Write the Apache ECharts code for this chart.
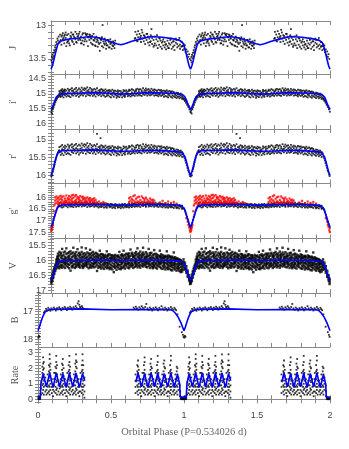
<!DOCTYPE html>
<html><head><meta charset="utf-8">
<script src="https://cdn.jsdelivr.net/npm/echarts@6/dist/echarts.min.js"></script>
<style>html,body{margin:0;padding:0;background:#fff}#c{width:349px;height:449px}</style>
</head><body><div id="c"></div>
<script>
// ---------- tick labels ----------
const phaseLabels=[0,0.5,1,1.5,2];
const jLabels=[13,13.5];
const iLabels=[14.5,15,15.5,16];
const rLabels=[15,15.5,16];
const gLabels=[16,16.5,17,17.5];
const vLabels=[15.5,16,16.5,17];
const bLabels=[17,18];
const rateLabels=[0,1,2,3];
const bandNames=['J',"i'","r'","g'",'V','B','Rate'];
const xTitle='Orbital Phase (P=0.534026 d)';

// ---------- observations (phase 0-1; plotted for two cycles) ----------
const jObs=[[0.003,13.52],[0.006,13.47],[0.008,13.55],[0.011,13.44],[0.014,13.49],[0.017,13.41],[0.02,13.46],[0.023,13.37],[0.026,13.4],[0.029,13.33],[0.032,13.3],[0.035,13.36],[0.038,13.25],[0.042,13.28],[0.046,13.2],[0.05,13.23],[0.055,13.17],
[0.06,13.26],[0.07,13.22],[0.08,13.15],[0.09,13.19],[0.1,13.14],[0.11,13.31],[0.12,13.24],[0.13,13.27],[0.14,13.16],[0.15,13.23],[0.16,13.14],[0.17,13.19],[0.18,13.25],[0.19,13.17],[0.2,13.13],[0.21,13.22],[0.22,13.27],[0.23,13.12],[0.24,13.24],[0.25,13.14],[0.26,13.13],[0.27,13.18],[0.28,13.15],[0.29,13.2],[0.3,13.29],[0.31,13.23],[0.32,13.31],[0.33,13.21],[0.34,13.26],[0.35,13.38],[0.36,13.22],[0.37,13.0],[0.38,13.27],[0.39,13.24],[0.4,13.3],[0.41,13.22],[0.42,13.33],[0.43,13.26],[0.44,13.3],[0.45,13.27],[0.46,13.23],
[0.6,13.2],[0.62,13.24],[0.64,13.18],[0.65,13.07],[0.67,13.16],[0.69,13.13],[0.71,13.25],[0.72,13.06],[0.74,13.3],[0.76,13.15],[0.78,13.2],[0.8,13.24],[0.82,13.29],[0.84,13.34],[0.86,13.2],[0.88,13.24],[0.9,13.22],[0.92,13.19],[0.94,13.31],[0.95,13.28],[0.955,13.35],[0.96,13.3],[0.965,13.4],[0.97,13.36],[0.975,13.44],[0.98,13.39],[0.985,13.47],[0.99,13.43],[0.995,13.5]];
const jCols=[[0.065,[13.24,13.14]],[0.075,[13.17,13.29]],[0.085,[13.12,13.21]],[0.095,[13.27,13.16]],[0.105,[13.19,13.11]],[0.115,[13.26,13.15]],[0.125,[13.13,13.23]],[0.135,[13.2,13.3]],[0.145,[13.11,13.18]],[0.155,[13.25,13.14]],[0.165,[13.17,13.28]],[0.175,[13.21,13.1]],[0.185,[13.13,13.26]],[0.195,[13.22,13.16]],[0.205,[13.1,13.2]],[0.215,[13.27,13.17]],[0.225,[13.14,13.23]],[0.235,[13.19,13.29]],[0.245,[13.12,13.21]],[0.255,[13.24,13.15]],[0.265,[13.18,13.31]],[0.275,[13.14,13.22]],[0.285,[13.26,13.19]],[0.295,[13.16,13.28]],[0.305,[13.22,13.13]],[0.315,[13.3,13.2]],[0.325,[13.17,13.25]],[0.335,[13.23,13.32]],[0.345,[13.19,13.28]],[0.355,[13.26,13.21]],[0.365,[13.31,13.18]],[0.375,[13.24,13.33]],[0.385,[13.2,13.29]],[0.395,[13.27,13.35]],[0.405,[13.22,13.3]],[0.415,[13.33,13.25]],[0.425,[13.28,13.21]],[0.435,[13.35,13.26]],[0.445,[13.24,13.31]],[0.455,[13.29,13.34]],
[0.605,[13.19,13.1]],[0.615,[13.14,13.23]],[0.625,[13.09,13.18]],[0.635,[13.21,13.13]],[0.645,[13.16,13.25]],[0.655,[13.11,13.2]],[0.665,[13.24,13.15]],[0.675,[13.18,13.28]],[0.685,[13.13,13.22]],[0.695,[13.26,13.17]],[0.705,[13.2,13.3]],[0.715,[13.15,13.24]],[0.725,[13.28,13.19]],[0.735,[13.22,13.32]],[0.745,[13.17,13.27]],[0.755,[13.3,13.21]],[0.765,[13.24,13.34]],[0.775,[13.19,13.29]],[0.785,[13.32,13.23]],[0.795,[13.26,13.35]],[0.805,[13.21,13.3]],[0.815,[13.33,13.25]],[0.825,[13.28,13.36]],[0.835,[13.23,13.31]],[0.845,[13.34,13.27]],[0.855,[13.29,13.22]],[0.865,[13.35,13.26]],[0.875,[13.24,13.32]],[0.885,[13.3,13.37]],[0.895,[13.26,13.2]],[0.905,[13.33,13.28]],[0.915,[13.22,13.31]],[0.925,[13.29,13.35]],[0.935,[13.25,13.32]],[0.945,[13.31,13.37]]];

const iObs=[[0.002,15.62],[0.005,15.55],[0.008,15.66],[0.01,15.48],[0.013,15.52],[0.016,15.4],[0.019,15.45],[0.022,15.33],[0.025,15.37],[0.028,15.25],[0.031,15.29],[0.034,15.18],[0.037,15.22],[0.04,15.12],[0.044,15.16],[0.048,15.08],[0.052,15.11],[0.056,15.04],
[0.948,15.14],[0.952,15.19],[0.956,15.16],[0.96,15.24],[0.964,15.21],[0.968,15.3],[0.972,15.27],[0.976,15.37],[0.98,15.34],[0.984,15.44],[0.988,15.41],[0.992,15.52],[0.996,15.49],[0.999,15.6]];
const iCols=[[0.06,[15.05,14.91,14.99]],[0.065,[14.95,15.08]],[0.07,[14.88,15.02,15.1]],[0.075,[14.9,15.0]],[0.08,[14.95,14.84,15.07]],[0.085,[15.03,14.92]],[0.09,[15.12,14.97,14.9]],[0.095,[14.86,15.0]],[0.1,[14.86,15.04,14.93]],[0.11,[15.0,14.89,15.09]],[0.12,[14.83,14.96,15.06]],[0.13,[15.08,14.92,14.87]],[0.14,[14.98,15.11,14.85]],[0.15,[14.9,15.03,14.81]],[0.16,[15.06,14.94,14.88]],[0.17,[14.84,15.0,14.96]],[0.18,[14.92,14.8,15.07]],[0.19,[15.03,14.87,14.95]],[0.2,[14.82,14.99,15.1]],[0.21,[14.94,15.05,14.86]],[0.22,[14.79,14.91,15.02]],[0.23,[15.06,14.85,14.97]],[0.24,[14.88,15.0,14.81]],[0.25,[14.95,14.83,15.08]],[0.26,[15.02,14.9,14.78]],[0.27,[14.86,15.04,14.93]],[0.28,[14.8,14.97,15.06]],[0.29,[14.91,15.01,14.84]],[0.3,[15.07,14.87,14.95]],[0.31,[14.83,14.99,15.03]],[0.32,[14.93,15.09,14.86]],[0.33,[14.81,14.95,15.01]],[0.34,[15.05,14.89,14.97]],[0.35,[14.87,15.02,14.92]],[0.36,[14.96,14.84,15.08]],[0.37,[15.03,14.91,14.86]],[0.38,[14.89,15.06,14.98]],[0.39,[14.94,14.85,15.1]],[0.4,[15.0,14.9,15.07]],[0.41,[14.88,15.04,14.95]],[0.42,[15.09,14.93,14.87]],[0.43,[14.91,15.01,15.12]],[0.44,[14.97,14.86,15.05]],[0.45,[15.1,14.95,14.9]],[0.46,[14.89,15.03,14.99]],[0.47,[15.06,14.92,15.13]],[0.48,[14.94,15.08,14.88]],[0.49,[15.02,14.9,15.11]],[0.5,[14.91,15.05,14.98]],[0.51,[15.12,14.96,15.01]],[0.52,[14.93,15.07,14.87]],[0.53,[15.04,14.9,15.1]],[0.54,[14.88,15.0,14.95]],[0.55,[15.08,14.93,15.02]],[0.56,[14.9,15.05,14.86]],[0.57,[15.01,14.88,15.09]],[0.58,[14.95,15.06,14.84]],[0.59,[14.87,14.99,15.04]],[0.6,[15.07,14.91,14.96]],[0.61,[14.85,15.02,14.9]],[0.62,[14.97,14.83,15.06]],[0.63,[15.03,14.92,14.86]],[0.64,[14.84,14.98,15.05]],[0.65,[14.93,15.07,14.88]],[0.66,[14.81,14.95,15.01]],[0.67,[15.04,14.87,14.94]],[0.68,[14.9,15.0,14.82]],[0.69,[14.86,14.97,15.06]],[0.7,[15.02,14.84,14.92]],[0.71,[14.89,15.05,14.96]],[0.72,[14.83,14.93,15.03]],[0.73,[15.0,14.88,14.97]],[0.74,[14.92,15.06,14.85]],[0.75,[14.87,14.98,15.04]],[0.76,[15.05,14.9,14.95]],[0.77,[14.86,15.01,15.08]],[0.78,[14.96,14.88,15.03]],[0.79,[15.07,14.93,14.87]],[0.8,[14.9,15.04,14.99]],[0.81,[15.01,14.89,15.1]],[0.82,[14.94,15.07,14.91]],[0.83,[15.09,14.96,14.88]],[0.84,[14.92,15.03,15.12]],[0.85,[15.0,14.9,15.06]],[0.86,[14.95,15.1,14.93]],[0.87,[15.05,14.92,15.13]],[0.88,[14.98,15.08,14.94]],[0.89,[15.11,14.99,15.03]],[0.9,[14.96,15.06,15.14]],[0.91,[15.02,14.97,15.1]],[0.92,[15.08,15.0,15.15]],[0.93,[15.04,15.12,14.99]],[0.94,[15.1,15.03,15.17]]];

const rObs=[[0.002,16.03],[0.006,15.95],[0.01,16.0],[0.014,15.88],[0.018,15.82],[0.022,15.76],[0.026,15.7],[0.03,15.63],[0.034,15.56],[0.038,15.5],[0.042,15.44],[0.046,15.4],[0.05,15.35],[0.055,15.31],[0.33,14.83],[0.355,14.95],
[0.948,15.38],[0.953,15.47],[0.958,15.52],[0.963,15.58],[0.968,15.65],[0.973,15.72],[0.978,15.79],[0.983,15.86],[0.988,15.9],[0.993,15.97],[0.997,16.02]];
const rCols=[[0.06,[15.35,15.2,15.29]],[0.07,[15.18,15.33,15.42]],[0.08,[15.26,15.14,15.38]],[0.09,[15.43,15.28,15.2]],[0.1,[15.16,15.35,15.24]],[0.11,[15.31,15.19,15.4]],[0.12,[15.13,15.27,15.37]],[0.13,[15.39,15.22,15.17]],[0.14,[15.29,15.42,15.15]],[0.15,[15.21,15.34,15.12]],[0.16,[15.37,15.25,15.18]],[0.17,[15.14,15.31,15.27]],[0.18,[15.23,15.11,15.38]],[0.19,[15.34,15.17,15.26]],[0.2,[15.13,15.3,15.41]],[0.21,[15.25,15.36,15.16]],[0.22,[15.1,15.22,15.33]],[0.23,[15.37,15.15,15.28]],[0.24,[15.19,15.31,15.12]],[0.25,[15.26,15.14,15.39]],[0.26,[15.33,15.21,15.09]],[0.27,[15.17,15.35,15.24]],[0.28,[15.11,15.28,15.37]],[0.29,[15.22,15.32,15.15]],[0.3,[15.38,15.18,15.26]],[0.31,[15.14,15.3,15.34]],[0.32,[15.24,15.4,15.17]],[0.33,[15.12,15.26,15.32]],[0.34,[15.36,15.2,15.28]],[0.35,[15.18,15.33,15.23]],[0.36,[15.27,15.15,15.39]],[0.37,[15.34,15.22,15.17]],[0.38,[15.2,15.37,15.29]],[0.39,[15.25,15.16,15.41]],[0.4,[15.31,15.21,15.38]],[0.41,[15.19,15.35,15.26]],[0.42,[15.4,15.24,15.18]],[0.43,[15.22,15.32,15.43]],[0.44,[15.28,15.17,15.36]],[0.45,[15.41,15.26,15.21]],[0.46,[15.2,15.34,15.3]],[0.47,[15.37,15.23,15.44]],[0.48,[15.25,15.39,15.19]],[0.49,[15.33,15.21,15.42]],[0.5,[15.22,15.36,15.29]],[0.51,[15.43,15.27,15.32]],[0.52,[15.24,15.38,15.18]],[0.53,[15.35,15.21,15.41]],[0.54,[15.19,15.31,15.26]],[0.55,[15.39,15.24,15.33]],[0.56,[15.21,15.36,15.17]],[0.57,[15.32,15.19,15.4]],[0.58,[15.26,15.37,15.15]],[0.59,[15.18,15.3,15.35]],[0.6,[15.38,15.22,15.27]],[0.61,[15.16,15.33,15.21]],[0.62,[15.28,15.14,15.37]],[0.63,[15.34,15.23,15.17]],[0.64,[15.15,15.29,15.36]],[0.65,[15.24,15.38,15.19]],[0.66,[15.12,15.26,15.32]],[0.67,[15.35,15.18,15.25]],[0.68,[15.21,15.31,15.13]],[0.69,[15.17,15.28,15.37]],[0.7,[15.33,15.15,15.23]],[0.71,[15.2,15.36,15.27]],[0.72,[15.14,15.24,15.34]],[0.73,[15.31,15.19,15.28]],[0.74,[15.23,15.37,15.16]],[0.75,[15.18,15.29,15.35]],[0.76,[15.36,15.21,15.26]],[0.77,[15.17,15.32,15.39]],[0.78,[15.27,15.19,15.34]],[0.79,[15.38,15.24,15.18]],[0.8,[15.21,15.35,15.3]],[0.81,[15.32,15.2,15.41]],[0.82,[15.25,15.38,15.22]],[0.83,[15.4,15.27,15.19]],[0.84,[15.23,15.34,15.43]],[0.85,[15.31,15.21,15.37]],[0.86,[15.26,15.41,15.24]],[0.87,[15.36,15.23,15.44]],[0.88,[15.29,15.39,15.25]],[0.89,[15.42,15.3,15.34]],[0.9,[15.27,15.37,15.45]],[0.91,[15.33,15.28,15.41]],[0.92,[15.39,15.31,15.46]],[0.93,[15.35,15.43,15.3]],[0.94,[15.41,15.34,15.48]]];

const gObs=[[0.003,17.35],[0.008,17.25],[0.013,17.1],[0.018,16.98],[0.023,16.85],[0.028,16.75],[0.033,16.65],[0.038,16.56],[0.043,16.48],[0.048,16.42],[0.054,16.37],
[0.95,16.46],[0.955,16.5],[0.96,16.58],[0.965,16.66],[0.97,16.75],[0.975,16.85],[0.98,16.95],[0.985,17.05],[0.99,17.15],[0.995,17.25],[0.999,17.32]];
const gCols=[[0.06,[16.37,16.25,16.3]],[0.07,[16.22,16.4]],[0.08,[16.29,16.44,16.34]],[0.09,[16.41,16.27]],[0.1,[16.24,16.35,16.31]],[0.11,[16.38,16.21]],[0.12,[16.3,16.43,16.26]],[0.13,[16.23,16.36]],[0.14,[16.4,16.28,16.33]],[0.15,[16.26,16.39]],[0.16,[16.21,16.32,16.42]],[0.17,[16.35,16.25]],[0.18,[16.29,16.41,16.22]],[0.19,[16.37,16.24]],[0.2,[16.2,16.31,16.39]],[0.21,[16.33,16.26]],[0.22,[16.4,16.23,16.3]],[0.23,[16.27,16.36]],[0.24,[16.22,16.38,16.32]],[0.25,[16.34,16.25]],[0.26,[16.29,16.42,16.21]],[0.27,[16.36,16.27]],[0.28,[16.23,16.31,16.4]],[0.29,[16.38,16.28]],[0.3,[16.25,16.35,16.3]],[0.31,[16.41,16.24]],[0.32,[16.28,16.37,16.33]],[0.33,[16.22,16.39]],[0.34,[16.35,16.27,16.44]],[0.35,[16.3,16.4]],[0.36,[16.25,16.36,16.42]],[0.37,[16.39,16.29]],[0.38,[16.33,16.44,16.26]],[0.39,[16.41,16.31]],[0.4,[16.27,16.37,16.45]],[0.41,[16.35,16.29]],[0.42,[16.43,16.31,16.38]],[0.43,[16.28,16.4]],[0.44,[16.36,16.46,16.3]],[0.45,[16.42,16.33]],[0.46,[16.29,16.39,16.47]],[0.47,[16.37,16.31]],[0.48,[16.44,16.34,16.4]],[0.49,[16.3,16.42]],[0.5,[16.38,16.47,16.33]],[0.51,[16.41,16.29]],[0.52,[16.35,16.45,16.31]],[0.53,[16.28,16.4]],[0.54,[16.43,16.33,16.37]],[0.55,[16.3,16.41]],[0.56,[16.36,16.27,16.44]],[0.57,[16.39,16.31]],[0.58,[16.26,16.35,16.42]],[0.59,[16.37,16.28]],[0.6,[16.32,16.41,16.25]],[0.61,[16.38,16.27]],[0.62,[16.23,16.33,16.4]],[0.63,[16.36,16.26]],[0.64,[16.3,16.42,16.24]],[0.65,[16.35,16.22]],[0.66,[16.27,16.38,16.31]],[0.67,[16.21,16.34]],[0.68,[16.36,16.26,16.41]],[0.69,[16.29,16.23]],[0.7,[16.33,16.4,16.25]],[0.71,[16.22,16.37]],[0.72,[16.3,16.27,16.39]],[0.73,[16.35,16.24]],[0.74,[16.28,16.41,16.32]],[0.75,[16.23,16.36]],[0.76,[16.39,16.29,16.33]],[0.77,[16.26,16.42]],[0.78,[16.31,16.37,16.24]],[0.79,[16.4,16.28]],[0.8,[16.34,16.43,16.27]],[0.81,[16.3,16.38]],[0.82,[16.25,16.35,16.44]],[0.83,[16.41,16.31]],[0.84,[16.36,16.29,16.45]],[0.85,[16.33,16.4]],[0.86,[16.27,16.38,16.43]],[0.87,[16.42,16.32]],[0.88,[16.35,16.46,16.3]],[0.89,[16.39,16.34]],[0.9,[16.31,16.42,16.47]],[0.91,[16.44,16.36]],[0.92,[16.38,16.48,16.33]],[0.93,[16.41,16.37]],[0.94,[16.45,16.36,16.5]]];

const gObsRed=[[0.002,17.45],[0.006,17.4],[0.01,17.3],[0.014,17.2],[0.02,16.6],[0.024,16.35],[0.33,16.24],[0.345,16.18],[0.36,16.27],[0.375,16.2],[0.39,16.25],
[0.78,16.22],[0.8,16.15],[0.82,16.25],[0.84,16.18],[0.86,16.24],[0.88,16.2],[0.9,16.27],
[0.97,16.9],[0.98,17.05],[0.985,17.2],[0.99,17.3],[0.995,17.42],[0.999,17.5]];
const gRedCols=[[0.03,[16.14,16.0,16.27]],[0.04,[16.23,15.96,16.09]],[0.05,[16.03,16.18,16.3]],[0.06,[16.26,16.1,15.97]],[0.07,[15.93,16.21,16.06]],[0.08,[16.12,16.29,16.0]],[0.09,[16.19,15.95,16.24]],[0.1,[16.05,16.27,16.14]],[0.11,[15.92,16.16,16.22]],[0.12,[16.28,16.03,16.1]],[0.13,[16.08,16.2,15.94]],[0.14,[15.99,16.25,16.13]],[0.15,[16.17,15.91,16.06]],[0.16,[16.22,16.02,15.89]],[0.17,[15.96,16.15,16.26]],[0.18,[16.11,15.9,16.2]],[0.19,[16.24,16.04,15.98]],[0.2,[16.01,16.18,16.09]],[0.21,[15.94,16.23,16.13]],[0.22,[16.16,16.0,16.27]],[0.23,[16.07,16.25,15.97]],[0.24,[16.21,16.11,16.02]],[0.25,[16.29,16.05,16.15]],[0.26,[16.0,16.19,16.24]],[0.27,[16.12,16.28,16.06]],[0.28,[16.22,16.03,16.17]],[0.29,[16.09,16.3,16.14]],[0.3,[16.25,16.08,16.19]],[0.31,[16.16,16.31,16.04]],[0.32,[16.23,16.11,16.28]],
[0.56,[16.2,16.04]],[0.57,[15.99,16.14]],[0.58,[16.22,16.08]],[0.59,[16.13,15.95]],[0.6,[15.91,16.18]],[0.61,[16.06,16.24]],[0.62,[16.17,16.0]],[0.63,[15.97,16.21]],[0.64,[16.11,16.26]],[0.65,[16.19,15.96]],[0.66,[16.03,16.23]],[0.67,[16.15,16.07]],[0.68,[16.25,16.01]],[0.69,[16.09,16.2]],[0.7,[16.16,16.27]],[0.71,[16.05,16.22]],[0.72,[16.24,16.12]],[0.73,[16.1,16.19]],[0.74,[16.26,16.14]]];

// V: dense band, stored as columns [phase, [mags...]]
const vCols=[[0.003,[16.72,16.6,16.66,16.78]],[0.01,[16.55,16.62,16.48,16.7]],[0.017,[16.42,16.5,16.36,16.58]],[0.024,[16.3,16.38,16.25,16.46]],[0.031,[16.2,16.28,16.15,16.36]],[0.038,[16.12,16.2,16.06,15.98,16.28]],[0.045,[16.05,16.12,15.95,16.18,15.88]],
[0.05,[15.95,15.78,16.12,16.03,16.24,15.87]],[0.06,[16.08,15.84,15.72,16.19,15.99,16.27]],[0.07,[15.81,16.05,16.15,15.91,16.22,15.75]],[0.08,[16.17,15.94,15.62,16.06,15.86,16.25]],[0.09,[15.74,16.1,15.97,16.21,15.83,16.02]],[0.1,[15.89,16.26,16.07,15.71,16.14,15.96]],[0.11,[16.01,15.79,15.6,16.18,15.93,16.09]],[0.12,[16.23,15.88,16.04,15.76,16.13,15.98]],[0.13,[15.85,16.16,15.73,16.0,16.27,15.92]],[0.14,[16.11,15.96,16.35,15.8,16.05,15.7]],[0.15,[15.77,16.2,15.9,16.08,15.99,16.24]],[0.16,[16.03,15.58,15.86,16.15,15.74,16.21]],[0.17,[15.92,16.12,15.79,16.26,16.02,15.84]],[0.18,[16.18,15.73,15.97,16.07,15.88,16.23]],[0.19,[15.82,16.04,15.63,16.16,15.95,16.11]],[0.2,[16.09,15.87,16.22,15.75,16.0,16.17]],[0.21,[15.78,16.14,15.93,16.25,15.83,16.05]],[0.22,[16.06,15.57,15.88,16.19,15.97,15.72]],[0.23,[15.9,16.21,16.01,15.8,16.13,16.26]],[0.24,[16.15,15.76,15.94,16.08,15.85,16.2]],[0.25,[15.81,16.03,15.6,16.17,15.92,16.1]],[0.26,[16.22,15.89,16.06,15.74,16.14,15.98]],[0.27,[15.84,16.11,15.95,16.27,16.02,15.77]],[0.28,[16.04,15.65,15.91,16.16,15.8,16.23]],[0.29,[15.93,16.18,15.76,16.09,16.25,15.86]],[0.3,[16.12,15.83,16.0,15.72,16.2,15.96]],
[0.31,[15.79,16.07,16.24,15.9,16.13,15.99]],[0.32,[16.1,15.94,15.75,16.21,15.85,16.05]],[0.33,[15.88,16.15,16.36,15.98,16.03,15.78]],[0.34,[16.2,15.81,16.08,15.93,16.26,15.87]],[0.35,[15.97,15.68,16.12,15.84,16.01,16.22]],[0.36,[16.06,15.9,15.79,16.18,15.95,16.28]],[0.37,[15.83,16.14,16.03,15.91,16.24,15.8]],[0.38,[16.17,15.96,15.86,16.09,16.29,15.92]],[0.39,[15.89,16.22,16.0,15.82,16.12,16.05]],[0.4,[16.1,15.7,15.94,16.19,15.87,16.27]],[0.41,[15.85,16.07,16.25,15.97,16.15,15.81]],[0.42,[16.23,15.93,16.04,15.8,16.11,16.3]],[0.43,[15.92,16.16,15.84,16.27,16.02,15.96]],[0.44,[16.08,15.83,16.2,15.95,16.31,15.88]],[0.45,[15.87,16.13,16.4,16.01,15.94,16.22]],[0.46,[16.18,15.91,15.82,16.06,16.26,15.99]],[0.47,[15.95,16.21,16.1,15.86,16.32,16.03]],[0.48,[16.12,15.88,16.0,16.24,15.84,16.16]],[0.49,[15.9,16.17,15.72,16.05,16.29,15.97]],[0.5,[16.05,15.83,16.22,15.93,16.14,16.3]],[0.51,[15.86,16.11,15.98,16.26,15.8,16.07]],[0.52,[16.19,15.68,15.92,16.04,16.24,15.85]],[0.53,[15.96,16.15,15.82,16.09,16.28,16.0]],[0.54,[16.13,15.89,16.03,15.78,16.2,15.94]],[0.55,[15.84,16.07,16.25,15.95,16.12,15.79]],[0.56,[16.09,15.92,15.77,16.18,15.87,16.27]],[0.57,[15.98,15.64,16.14,15.85,16.04,16.21]],[0.58,[16.2,15.8,15.97,16.08,15.75,16.13]],[0.59,[15.88,16.16,16.01,15.9,16.26,15.83]],[0.6,[16.06,15.76,15.94,16.22,15.86,16.1]],
[0.61,[15.81,16.12,16.03,15.72,16.19,15.96]],[0.62,[16.15,15.6,15.89,16.07,15.8,16.24]],[0.63,[15.93,16.2,15.77,16.1,15.99,15.85]],[0.64,[16.04,15.84,16.16,15.71,16.25,15.95]],[0.65,[15.79,16.08,15.92,16.18,16.01,15.87]],[0.66,[16.13,15.58,15.83,16.02,15.74,16.21]],[0.67,[15.9,16.17,16.05,15.8,16.11,15.96]],[0.68,[16.22,15.73,15.88,16.06,15.94,16.14]],[0.69,[15.85,16.1,16.24,15.91,15.78,16.02]],[0.7,[16.07,15.62,15.97,16.19,15.86,16.12]],[0.71,[15.82,16.15,16.03,15.93,16.26,15.76]],[0.72,[16.11,15.88,15.75,16.2,16.0,15.95]],[0.73,[15.91,16.23,16.08,15.83,16.14,16.27]],[0.74,[16.16,15.66,15.94,16.05,15.8,16.21]],[0.75,[15.87,16.09,16.25,15.97,15.78,16.13]],[0.76,[16.03,15.92,15.81,16.18,16.28,15.89]],[0.77,[15.95,16.2,16.06,15.84,16.12,16.01]],[0.78,[16.14,15.68,15.9,16.23,15.86,16.08]],[0.79,[15.88,16.11,16.27,15.96,16.04,15.8]],[0.8,[16.19,15.94,15.83,16.07,16.29,15.91]],[0.81,[15.92,16.16,16.02,15.87,16.24,16.1]],[0.82,[16.09,15.85,16.21,15.98,16.31,15.89]],[0.83,[15.97,15.7,16.13,16.04,15.88,16.26]],[0.84,[16.22,15.93,16.06,15.84,16.15,16.3]],[0.85,[15.9,16.18,16.0,16.28,15.86,16.09]],[0.86,[16.12,15.89,16.33,15.97,16.05,16.2]],[0.87,[15.94,16.24,16.08,15.88,16.16,16.34]],[0.88,[16.17,15.74,15.99,16.1,16.27,15.92]],[0.89,[15.96,16.21,16.05,16.31,15.9,16.13]],[0.9,[16.14,15.93,16.25,16.02,16.35,15.98]],[0.91,[16.03,16.19,15.95,16.3,16.11,16.24]],[0.92,[16.09,16.27,16.0,16.36,16.16,15.97]],[0.93,[16.05,16.22,16.33,16.12,16.4,16.0]],[0.94,[16.13,16.3,16.04,16.38,16.21,16.08]],
[0.95,[16.05,16.15,15.97,16.22,16.32]],[0.96,[16.15,16.25,16.08,16.3]],[0.97,[16.28,16.36,16.2,16.42]],[0.98,[16.42,16.5,16.35,16.56]],[0.99,[16.56,16.62,16.5,16.68]],[0.997,[16.68,16.74,16.62,16.8]]];

const bObs=[[0.002,17.95],[0.006,17.88],[0.01,17.92],[0.04,17.03],[0.048,16.98],[0.055,16.9],[0.062,16.95],[0.07,16.86],[0.078,16.92],[0.085,16.97],[0.092,16.88],[0.1,16.93],[0.108,16.85],[0.115,16.9],[0.122,16.96],[0.13,16.87],[0.137,16.92],[0.145,16.84],[0.152,16.89],[0.16,16.95],[0.168,16.86],[0.175,16.91],[0.183,16.83],[0.19,16.88],[0.198,16.94],[0.205,16.85],[0.213,16.9],[0.22,16.82],[0.228,16.87],[0.235,16.93],[0.243,16.84],[0.25,16.89],[0.258,16.8],[0.265,16.86],[0.272,16.7],[0.278,16.62],[0.283,16.75],[0.288,16.83],[0.294,16.88],[0.3,16.8],[0.306,16.85],[0.312,16.9],
[0.655,16.85],[0.662,16.9],[0.67,16.82],[0.678,16.88],[0.686,16.93],[0.694,16.84],[0.702,16.89],[0.71,16.8],[0.718,16.86],[0.726,16.91],[0.734,16.83],[0.742,16.72],[0.75,16.88],[0.758,16.94],[0.766,16.85],[0.774,16.9],[0.782,16.96],[0.79,16.87],[0.798,16.92],[0.806,16.84],[0.814,16.89],[0.822,16.95],[0.83,16.86],[0.838,16.91],[0.846,16.8],[0.854,16.88],[0.862,16.93],[0.87,16.85],[0.878,16.9],[0.886,16.96],[0.894,16.87],[0.902,16.92],[0.91,16.83],[0.918,16.89],[0.926,16.94],[0.934,16.86],[0.94,16.91],[0.946,16.95],[0.955,17.1],[0.97,17.55],[0.985,17.75],[0.993,17.85],[0.997,17.92]];

// Rate: columns [phase, [rates...]]
const rateCols=[[0.003,[0.02,0.1,0.18]],[0.009,[0.05,0.0,0.14]],[0.015,[0.08,0.2,0.02]],[0.022,[0.3,0.7,1.1]],
[0.03,[0.4,0.9,1.3,1.7,2.1]],[0.035,[0.6,1.0,1.5,1.9,2.3,2.7]],[0.04,[0.3,0.8,1.2,1.6,2.0,2.4]],[0.05,[0.5,0.9,1.4]],[0.058,[0.3,0.6,1.0]],[0.066,[0.4,0.8,1.2,1.6]],
[0.075,[0.5,0.9,1.4,1.8,2.2]],[0.08,[0.3,0.8,1.2,1.7,2.1,2.6,2.9]],[0.085,[0.6,1.0,1.5,1.9,2.3]],[0.095,[0.4,0.8,1.3]],[0.103,[0.2,0.6,0.9]],[0.111,[0.5,0.9,1.3,1.7]],
[0.12,[0.4,0.8,1.3,1.7,2.1]],[0.125,[0.6,1.1,1.5,2.0,2.4,2.8]],[0.13,[0.3,0.7,1.2,1.6,2.2]],[0.14,[0.5,0.9,1.2]],[0.148,[0.3,0.7,1.0]],[0.156,[0.4,0.8,1.3,1.6]],
[0.165,[0.5,0.9,1.4,1.9,2.3]],[0.17,[0.3,0.8,1.2,1.7,2.2,2.6]],[0.175,[0.6,1.0,1.5,2.0]],[0.185,[0.4,0.9,1.3]],[0.193,[0.2,0.6,1.0]],[0.201,[0.5,0.9,1.2,1.7]],
[0.21,[0.4,0.8,1.3,1.8,2.2]],[0.215,[0.6,1.0,1.4,1.9,2.4,2.8]],[0.22,[0.3,0.7,1.2,1.7,2.1]],[0.23,[0.5,0.8,1.3]],[0.238,[0.3,0.6,1.0]],[0.246,[0.4,0.9,1.2,1.6]],
[0.255,[0.5,0.9,1.4,1.8,2.3]],[0.26,[0.3,0.7,1.2,1.6,2.1,2.5,2.9]],[0.265,[0.6,1.1,1.5,2.0,2.4]],[0.275,[0.4,0.8,1.3]],[0.283,[0.2,0.5,0.9]],[0.291,[0.5,0.9,1.3,1.7]],
[0.3,[0.4,0.8,1.3,1.8,2.2]],[0.305,[0.6,1.0,1.5,1.9,2.5,2.9]],[0.31,[0.3,0.8,1.2,1.7,2.2]],[0.318,[0.5,0.9,1.4,0.1]],
[0.668,[0.4,0.8,1.2,1.6]],[0.68,[0.5,0.9,1.4,1.8,2.2]],[0.685,[0.3,0.8,1.2,1.7,2.1,2.5]],[0.69,[0.6,1.0,1.5,1.9]],[0.7,[0.4,0.8,1.3]],[0.708,[0.2,0.6,0.9]],[0.716,[0.5,0.9,1.3,1.7]],
[0.725,[0.4,0.8,1.3,1.7,2.2]],[0.73,[0.6,1.0,1.5,1.9,2.4,2.7]],[0.735,[0.3,0.7,1.2,1.6]],[0.745,[0.5,0.9,1.2]],[0.753,[0.3,0.6,1.0]],[0.761,[0.4,0.8,1.3,1.6]],
[0.77,[0.5,0.9,1.4,1.9,2.3]],[0.775,[0.3,0.8,1.2,1.7,2.1,2.6]],[0.78,[0.6,1.0,1.5,2.0]],[0.79,[0.4,0.9,1.3]],[0.798,[0.2,0.6,1.0]],[0.806,[0.5,0.9,1.2,1.7]],
[0.815,[0.4,0.8,1.3,1.8,2.2]],[0.82,[0.6,1.0,1.4,1.9,2.4,2.8]],[0.825,[0.3,0.7,1.2,1.7]],[0.835,[0.5,0.8,1.3]],[0.843,[0.3,0.6,1.0]],[0.851,[0.4,0.9,1.2,1.6]],
[0.86,[0.5,0.9,1.4,1.8,2.3]],[0.865,[0.3,0.7,1.2,1.6,2.1,2.5]],[0.87,[0.6,1.1,1.5,2.0]],[0.88,[0.4,0.8,1.3]],[0.888,[0.2,0.5,0.9]],[0.896,[0.5,0.9,1.3,1.7]],
[0.905,[0.4,0.8,1.3,1.8,2.2]],[0.91,[0.6,1.0,1.5,1.9,2.5,2.8]],[0.915,[0.3,0.8,1.2,1.7]],[0.925,[0.5,0.9,1.2]],[0.933,[0.3,0.6,1.0]],[0.941,[0.4,0.8,1.3,1.6]],
[0.95,[0.5,0.9,1.4,1.8,2.1]],[0.955,[0.3,0.8,1.2,1.6,2.0]],[0.962,[0.6,1.0,1.4]],[0.972,[0.2,0.5,0.9]],[0.978,[0.02,0.1,0.15]],[0.985,[0.05,0.0,0.12]],[0.992,[0.08,0.02,0.1]],[0.997,[0.0,0.06,0.14]]];

// ---------- model curves (phase 0-1) ----------
const jModel=[[0,13.65],[0.01,13.6],[0.02,13.52],[0.03,13.43],[0.04,13.35],[0.05,13.28],[0.06,13.25],[0.08,13.23],[0.12,13.21],[0.2,13.19],[0.28,13.17],[0.35,13.19],[0.42,13.24],[0.47,13.275],[0.5,13.29],[0.53,13.275],[0.58,13.24],[0.65,13.2],[0.72,13.17],[0.8,13.18],[0.87,13.2],[0.92,13.225],[0.94,13.25],[0.95,13.28],[0.96,13.35],[0.97,13.43],[0.98,13.52],[0.99,13.6],[1,13.65]];
const iModel=[[0,15.52],[0.01,15.45],[0.02,15.33],[0.03,15.2],[0.04,15.1],[0.05,15.04],[0.06,15.02],[0.08,15.0],[0.2,14.98],[0.3,14.96],[0.4,14.98],[0.5,15.01],[0.6,14.99],[0.7,14.96],[0.8,14.97],[0.9,14.99],[0.94,15.02],[0.95,15.04],[0.96,15.1],[0.97,15.2],[0.98,15.33],[0.99,15.45],[1,15.52]];
const rModel=[[0,16.0],[0.01,15.9],[0.02,15.75],[0.03,15.58],[0.04,15.45],[0.05,15.36],[0.06,15.32],[0.08,15.3],[0.2,15.29],[0.3,15.28],[0.4,15.3],[0.5,15.32],[0.6,15.31],[0.7,15.29],[0.8,15.3],[0.9,15.33],[0.94,15.36],[0.95,15.4],[0.96,15.47],[0.97,15.6],[0.98,15.75],[0.99,15.9],[1,16.0]];
const gModel=[[0,17.28],[0.01,17.15],[0.02,16.95],[0.03,16.75],[0.04,16.55],[0.05,16.42],[0.06,16.36],[0.08,16.33],[0.2,16.31],[0.3,16.3],[0.4,16.32],[0.5,16.34],[0.6,16.32],[0.7,16.3],[0.8,16.31],[0.9,16.33],[0.93,16.35],[0.94,16.38],[0.95,16.44],[0.96,16.55],[0.97,16.75],[0.98,16.95],[0.99,17.15],[1,17.28]];
const vModel=[[0,16.67],[0.01,16.6],[0.02,16.45],[0.03,16.3],[0.04,16.16],[0.05,16.07],[0.06,16.03],[0.08,16.01],[0.2,16.0],[0.35,15.99],[0.5,16.01],[0.65,15.99],[0.8,16.0],[0.9,16.02],[0.93,16.04],[0.95,16.08],[0.96,16.16],[0.97,16.3],[0.98,16.45],[0.99,16.6],[1,16.67]];
const bModel=[[0,17.7],[0.01,17.55],[0.02,17.38],[0.03,17.22],[0.04,17.1],[0.05,17.01],[0.06,16.95],[0.08,16.92],[0.3,16.9],[0.5,16.93],[0.7,16.92],[0.9,16.93],[0.92,16.95],[0.94,17.05],[0.96,17.2],[0.98,17.42],[0.99,17.56],[1,17.7]];
const rateModel=[[0,0.1],[0.015,0.1],[0.02,1.0],[0.035,1.65],[0.058,0.8],[0.08,1.7],[0.103,0.75],[0.125,1.7],[0.148,0.8],[0.17,1.65],[0.193,0.75],[0.215,1.7],[0.238,0.8],[0.26,1.7],[0.283,0.75],[0.305,1.65],[0.32,1.2],[0.325,null],
[0.67,1.1],[0.685,1.7],[0.708,0.8],[0.73,1.65],[0.753,0.75],[0.775,1.7],[0.798,0.8],[0.82,1.7],[0.843,0.75],[0.865,1.65],[0.888,0.8],[0.91,1.7],[0.933,0.75],[0.955,1.6],[0.97,1.0],[0.975,0.15],[1,0.1]];

// ---------- build ----------
function twoCycles(a){return a.map(d=>[d[0],d[1]]).concat(a.map(d=>[d[0]+1,d[1]]));}
function fromCols(c){const o=[];c.forEach(([p,ms])=>ms.forEach(m=>o.push([p,m])));return o;}
function modelTwo(a){const o=a.map(d=>[d[0],d[1]==null?'-':d[1]]);a.slice(1).forEach(d=>o.push([d[0]+1,d[1]==null?'-':d[1]]));return o;}

const obsList=[jObs.concat(fromCols(jCols)),iObs.concat(fromCols(iCols)),rObs.concat(fromCols(rCols)),gObs.concat(fromCols(gCols)),fromCols(vCols),bObs,fromCols(rateCols)];
const redObs=gObsRed.concat(fromCols(gRedCols));
const modelList=[jModel,iModel,rModel,gModel,vModel,bModel,rateModel];
const labelList=[jLabels,iLabels,rLabels,gLabels,vLabels,bLabels,rateLabels];

// layout
const tops=[21,74.5,129,183.5,238.5,293,347,403];
const ranges=[[12.94,13.73],[14.35,16.18],[14.69,16.23],[15.40,17.78],[15.27,17.10],[16.32,18.29],[-0.24,3.37]];
const steps=[0.1,0.1,0.1,0.1,0.1,0.1,0.2];
const nameGaps=[33,33,33,33,33,18,18];
const dotSize=[1.8,1.8,1.8,1.8,2.4,1.8,1.8];
function tickVals(lo,hi,st){const o=[];for(let k=Math.ceil(lo/st-1e-9);k*st<=hi+1e-9;k++)o.push(+(k*st).toFixed(4));return o;}

const axisCol='#888', txtCol='#444';
const grid=[],xAxis=[],yAxis=[],series=[];
const xt=tickVals(0,2,0.1);
for(let i=0;i<7;i++){
  grid.push({left:38,right:19,top:tops[i],height:tops[i+1]-tops[i]});
  const last=i===6;
  const lineS={show:true,lineStyle:{color:axisCol,width:1}};
  xAxis.push({type:'value',gridIndex:i,min:0,max:2,position:'bottom',splitLine:{show:false},axisLine:lineS,
    axisTick:{show:true,inside:true,length:4,customValues:xt,lineStyle:{color:axisCol}},
    axisLabel:{show:last,customValues:phaseLabels,margin:8,color:txtCol,fontSize:9,fontFamily:'Liberation Sans'},
    name:last?xTitle:'',nameLocation:'middle',nameGap:24,nameTextStyle:{color:'#666',fontSize:10.5,fontFamily:'Liberation Serif'}});
  xAxis.push({type:'value',gridIndex:i,min:0,max:2,position:'top',splitLine:{show:false},axisLine:lineS,
    axisTick:{show:true,inside:true,length:4,customValues:xt,lineStyle:{color:axisCol}},axisLabel:{show:false}});
  const r=ranges[i], inv=i<6;
  const yt=tickVals(r[0],r[1],steps[i]);
  yAxis.push({type:'value',gridIndex:i,min:r[0],max:r[1],inverse:inv,position:'left',splitLine:{show:false},axisLine:lineS,
    axisTick:{show:true,inside:true,length:3,customValues:yt,lineStyle:{color:axisCol}},
    axisLabel:{customValues:labelList[i],margin:5,color:txtCol,fontSize:9,fontFamily:'Liberation Sans'},
    name:bandNames[i],nameLocation:'middle',nameRotate:90,nameGap:nameGaps[i],nameMoveOverlap:false,nameTextStyle:{color:'#555',fontSize:10,fontFamily:'Liberation Serif'}});
  yAxis.push({type:'value',gridIndex:i,min:r[0],max:r[1],inverse:inv,position:'right',splitLine:{show:false},axisLine:lineS,
    axisTick:{show:true,inside:true,length:3,customValues:yt,lineStyle:{color:axisCol}},axisLabel:{show:false}});
  series.push({type:'scatter',xAxisIndex:2*i,yAxisIndex:2*i,data:twoCycles(obsList[i]),symbol:'rect',symbolSize:dotSize[i],itemStyle:{color:'#000'},silent:true,animation:false});
  if(i===3) series.push({type:'scatter',xAxisIndex:2*i,yAxisIndex:2*i,data:twoCycles(redObs),symbol:'rect',symbolSize:2.2,itemStyle:{color:'#ff0000'},silent:true,animation:false});
  series.push({type:'line',xAxisIndex:2*i,yAxisIndex:2*i,data:modelTwo(modelList[i]),showSymbol:false,connectNulls:false,lineStyle:{color:'#0000ff',width:1.6},silent:true,animation:false,z:5});
}
const chart=echarts.init(document.getElementById('c'),null,{renderer:'canvas'});
chart.setOption({animation:false,grid,xAxis,yAxis,series});
</script></body></html>
